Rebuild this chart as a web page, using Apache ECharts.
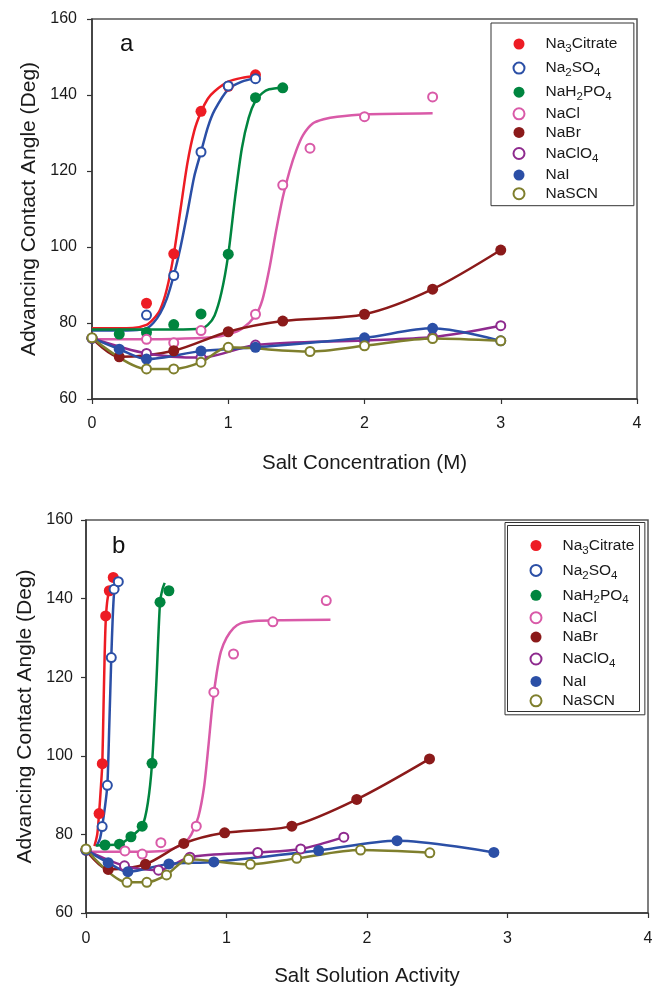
<!DOCTYPE html>
<html><head><meta charset="utf-8">
<script src="https://cdn.jsdelivr.net/npm/echarts@6/dist/echarts.min.js"></script>
<style>html,body{margin:0;padding:0;background:#fff}#c{width:654px;height:987px}</style>
</head><body><div id="c"></div>
<script>
// ---------- data ----------
const salts = ['Na3Citrate','Na2SO4','NaH2PO4','NaCl','NaBr','NaClO4','NaI','NaSCN'];
const xTicks = [0,1,2,3,4];
const yTicks = [60,80,100,120,140,160];

// Panel a: salt concentration (M) vs advancing contact angle (deg)
const citrateA = [[0.4,85.2],[0.6,98.2],[0.8,135.7],[1.0,142.3],[1.2,145.3]];
const sulfateA = [[0.4,82.1],[0.6,92.5],[0.8,125],[1.0,142.4],[1.2,144.3]];
const phosphateA = [[0.2,77.1],[0.4,77.5],[0.6,79.6],[0.8,82.4],[1.0,98.1],[1.2,139.3],[1.4,141.9]];
const chlorideA = [[0.4,75.7],[0.6,74.8],[0.8,78],[1.2,82.3],[1.4,116.3],[1.6,126],[2.0,134.3],[2.5,139.5]];
const bromideA = [[0,76],[0.2,71.1],[0.6,72.7],[1.0,77.7],[1.4,80.5],[2.0,82.3],[2.5,88.9],[3.0,99.2]];
const perchlorateA = [[0,76],[0.4,72],[0.8,70.9],[1.2,74.2],[2.0,75.4],[2.5,76.3],[3.0,79.3]];
const iodideA = [[0,76],[0.2,73.1],[0.4,70.5],[0.8,72.6],[1.2,73.6],[2.0,76.1],[2.5,78.6],[3.0,75.3]];
const thiocyanateA = [[0,76.1],[0.4,67.9],[0.6,67.9],[0.8,69.7],[1.0,73.6],[1.6,72.5],[2.0,74],[2.5,75.9],[3.0,75.3]];

// fitted curves of panel a
const citrateFitA = [[0,78.6],[0.3,78.7],[0.4,79.5],[0.45,81],[0.5,83.5],[0.55,89],[0.6,98],[0.65,110],[0.7,122],[0.75,130.5],[0.8,135.5],[0.85,139],[0.9,141],[1.0,143.5],[1.1,144.5],[1.2,145]];
const sulfateFitA = [[0,78],[0.3,78.1],[0.4,78.6],[0.45,80],[0.5,82.5],[0.55,86.5],[0.6,92.5],[0.65,100],[0.7,109],[0.75,118.5],[0.8,125],[0.85,131.5],[0.9,136],[1.0,141.5],[1.1,143.5],[1.2,144.5]];
const phosphateFitA = [[0,78.3],[0.6,78.3],[0.8,78.5],[0.85,79.5],[0.9,82],[0.95,88],[1.0,98],[1.05,113],[1.1,126],[1.15,134],[1.2,138.5],[1.25,140.5],[1.3,141.5],[1.4,142]];
const chlorideFitA = [[0,75.7],[0.6,75.8],[0.9,76.3],[1.0,77],[1.1,78.5],[1.2,82],[1.25,86],[1.3,94],[1.35,104],[1.4,113],[1.45,120],[1.5,125.5],[1.55,129.5],[1.62,132.5],[1.7,133.6],[1.8,134.3],[2.0,134.9],[2.5,135.2]];

// Panel b: salt solution activity vs advancing contact angle (deg)
const citrateB = [[0.093,85.3],[0.116,98],[0.14,135.6],[0.166,142],[0.194,145.4]];
const sulfateB = [[0.115,82],[0.152,92.5],[0.18,125],[0.2,142.4],[0.23,144.3]];
const phosphateB = [[0.135,77.3],[0.238,77.5],[0.32,79.4],[0.40,82.1],[0.47,98.1],[0.527,139.1],[0.59,142]];
const chlorideB = [[0.277,75.8],[0.4,75],[0.533,77.9],[0.785,82.1],[0.91,116.2],[1.05,125.9],[1.33,134.1],[1.71,139.5]];
const bromideB = [[0,76],[0.158,71.1],[0.423,72.4],[0.696,77.7],[0.987,80.4],[1.465,82.1],[1.927,88.9],[2.445,99.2]];
const perchlorateB = [[0,76],[0.274,72],[0.516,70.9],[0.74,74.2],[1.222,75.4],[1.528,76.3],[1.835,79.3]];
const iodideB = [[0,76],[0.158,72.8],[0.298,70.5],[0.59,72.5],[0.91,73],[1.656,75.9],[2.214,78.4],[2.903,75.4]];
const thiocyanateB = [[0,76.3],[0.292,67.8],[0.433,67.8],[0.573,69.7],[0.73,73.7],[1.17,72.4],[1.5,73.9],[1.954,76],[2.447,75.3]];

const citrateFitB = [[0.06,77],[0.08,80],[0.093,85.3],[0.105,91.5],[0.116,98],[0.125,113],[0.133,126],[0.14,134],[0.15,139],[0.166,142.5]];
const sulfateFitB = [[0.075,77],[0.1,79],[0.115,82],[0.135,87],[0.152,92.5],[0.166,108],[0.18,125],[0.19,135],[0.2,141.5],[0.213,144]];
const phosphateFitB = [[0.07,77.2],[0.135,77.3],[0.238,77.5],[0.32,79.4],[0.4,82.1],[0.44,88],[0.47,98.1],[0.5,118],[0.527,139.1],[0.545,142.5],[0.56,144]];
const chlorideFitB = [[0,75.6],[0.4,75.6],[0.55,75.8],[0.62,76.4],[0.7,77.8],[0.75,80],[0.8,84.5],[0.84,92],[0.87,102],[0.9,113],[0.93,121],[0.96,126.5],[1.0,130],[1.05,132.5],[1.1,133.7],[1.2,134.3],[1.4,134.5],[1.74,134.6]];

// ---------- styles ----------
const colors = ['#ed1c24','#2b4fa6','#00853f','#d95aa8','#8b1a1a','#8e2a8e','#2b4fa6','#7f7f2d'];
const hollow = [false,true,false,true,false,true,false,true];
const FONT = 'Liberation Sans, Arial, sans-serif';

function markerStyle(i){
  return hollow[i] ? {color:'#fff', borderColor:colors[i], borderWidth:2, opacity:1} : {color:colors[i], opacity:1};
}
function fitSeries(i, data, g){
  return {type:'line', name:salts[i], xAxisIndex:g, yAxisIndex:g, data, smooth:0.25,
    symbol:'none', lineStyle:{color:colors[i], width:2.5}, itemStyle:markerStyle(i), z:2, silent:true};
}
function pointSeries(i, data, g){
  return {type:'scatter', name:salts[i], xAxisIndex:g, yAxisIndex:g, data,
    symbol:'circle', symbolSize: hollow[i]?9:11, itemStyle:markerStyle(i), z:3};
}
function lineSeries(i, data, g){
  return {type:'line', name:salts[i], xAxisIndex:g, yAxisIndex:g, data, smooth:0.3,
    symbol:'circle', symbolSize: hollow[i]?9:11, showSymbol:true,
    lineStyle:{color:colors[i], width:2.5}, itemStyle:markerStyle(i), z:3};
}

const series = [
  fitSeries(0,citrateFitA,0), pointSeries(0,citrateA,0),
  fitSeries(1,sulfateFitA,0), pointSeries(1,sulfateA,0),
  fitSeries(2,phosphateFitA,0), pointSeries(2,phosphateA,0),
  fitSeries(3,chlorideFitA,0), pointSeries(3,chlorideA,0),
  lineSeries(4,bromideA,0), lineSeries(5,perchlorateA,0), lineSeries(6,iodideA,0), lineSeries(7,thiocyanateA,0),
  fitSeries(0,citrateFitB,1), pointSeries(0,citrateB,1),
  fitSeries(1,sulfateFitB,1), pointSeries(1,sulfateB,1),
  fitSeries(2,phosphateFitB,1), pointSeries(2,phosphateB,1),
  fitSeries(3,chlorideFitB,1), pointSeries(3,chlorideB,1),
  lineSeries(4,bromideB,1), lineSeries(5,perchlorateB,1), lineSeries(6,iodideB,1), lineSeries(7,thiocyanateB,1)
];

const legendData = salts.map((s,i)=>({name:s, icon:'circle', itemStyle:markerStyle(i)}));
function legendFmt(name){ return '{n|' + name.replace(/(\d)/g,'}{s|$1}{n|') + '}'; }
const legendText = {fontFamily:FONT, fontSize:15.5, color:'#1a1a1a', padding:[0,0,0,16],
  rich:{n:{fontFamily:FONT, fontSize:15.5, lineHeight:15, color:'#1a1a1a'},
        s:{fontFamily:FONT, fontSize:11.5, height:11, lineHeight:21, padding:[10,0,0,0], color:'#1a1a1a'}}};

function xAxis(g, name, gap, lm){
  return {type:'value', gridIndex:g, min:xTicks[0], max:xTicks[xTicks.length-1], interval:1,
    name, nameLocation:'middle', nameGap:gap, nameTextStyle:{fontFamily:FONT, fontSize:20.5, color:'#1a1a1a'},
    axisLine:{show:true, onZero:false, lineStyle:{color:'#333', width:1.5}},
    axisTick:{show:true, inside:false, length:5, lineStyle:{color:'#333', width:1.2}},
    axisLabel:{fontFamily:FONT, fontSize:16, color:'#1a1a1a', margin:lm},
    splitLine:{show:false}};
}
function yAxis(g, gap, lm){
  return {type:'value', gridIndex:g, min:yTicks[0], max:yTicks[yTicks.length-1], interval:20,
    name:'Advancing Contact Angle (Deg)', nameLocation:'middle', nameGap:gap, nameRotate:90,
    nameTextStyle:{fontFamily:FONT, fontSize:21, color:'#1a1a1a'},
    axisLine:{show:true, onZero:false, lineStyle:{color:'#333', width:1.5}},
    axisTick:{show:true, inside:false, length:5, lineStyle:{color:'#333', width:1.2}},
    axisLabel:{fontFamily:FONT, fontSize:16, color:'#1a1a1a', margin:lm},
    splitLine:{show:false}};
}

const option = {
  animation:false,
  backgroundColor:'#fff',
  title:[
    {text:'a', left:115, top:27, textStyle:{fontFamily:FONT, fontSize:24, fontWeight:'normal', color:'#111'}},
    {text:'b', left:107, top:529, textStyle:{fontFamily:FONT, fontSize:24, fontWeight:'normal', color:'#111'}}
  ],
  grid:[
    {left:92, right:17, top:19, height:380, show:true, borderColor:'#555', borderWidth:1.5, backgroundColor:'transparent', outerBoundsMode:'none', containLabel:false},
    {left:86, right:6, top:520, height:393, show:true, borderColor:'#555', borderWidth:1.5, backgroundColor:'transparent', outerBoundsMode:'none', containLabel:false}
  ],
  xAxis:[ xAxis(0,'Salt Concentration (M)',54,17), xAxis(1,'Salt Solution Activity',53,18) ],
  yAxis:[ yAxis(0,41,15), yAxis(1,48,13) ],
  legend:[
    {left:491, top:23, orient:'vertical', padding:[10.5,16.5,4,21.5], itemGap:2.6, itemWidth:11, itemHeight:11,
     borderColor:'#333', borderWidth:1, backgroundColor:'#fff', data:legendData, formatter:legendFmt, textStyle:legendText, selectedMode:false},
    {left:505, top:522.5, orient:'vertical', padding:[12.5,10.5,6,24.5], itemGap:3.4, itemWidth:11, itemHeight:11,
     borderColor:'#333', borderWidth:1, backgroundColor:'#fff', data:legendData, formatter:legendFmt, textStyle:legendText, selectedMode:false}
  ],
  graphic:[
    {type:'rect', z:100, silent:true, shape:{x:507.5, y:525.5, width:132, height:186}, style:{fill:null, stroke:'#333', lineWidth:1}}
  ],
  series
};
const chart = echarts.init(document.getElementById('c'), null, {renderer:'canvas'});
chart.setOption(option);
</script></body></html>
